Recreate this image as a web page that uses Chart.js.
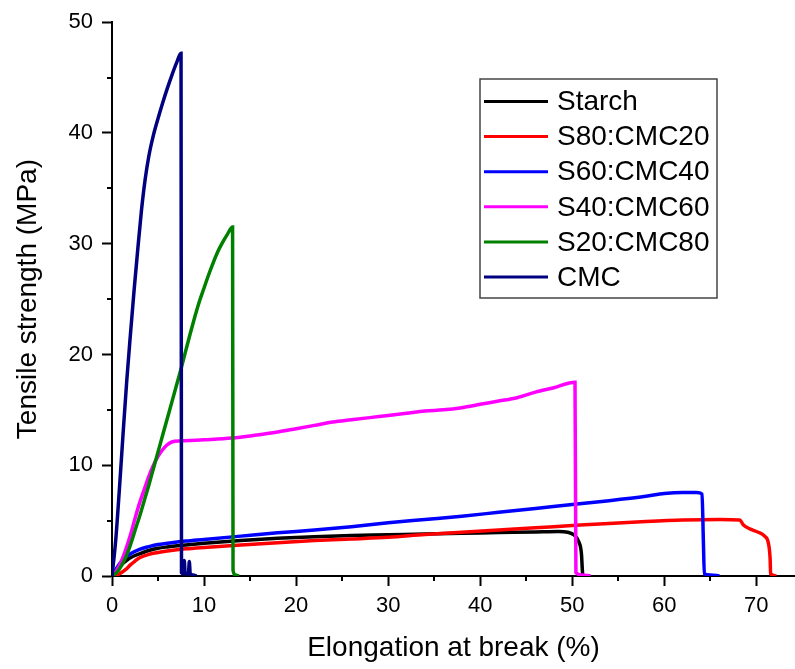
<!DOCTYPE html>
<html>
<head>
<meta charset="utf-8">
<script src="https://cdn.jsdelivr.net/npm/chart.js@4.4.1/dist/chart.umd.min.js"></script>
<style>
  body { margin: 0; background: #fff; }
  .wrap { width: 795px; height: 669px; }
</style>
</head>
<body>
<div class="wrap"><canvas id="tensileChart" width="795" height="669"></canvas></div>
<script>
// curves (elongation %, strength MPa)
const starchX = [0, 0.5, 1, 1.5, 2, 3, 4, 5, 6, 8, 10, 14, 18, 22, 26, 30, 34, 38, 42, 46, 48.5, 49.5, 50.2, 50.7, 51, 51.1, 51.15];
const starchY = [0, 0.5, 1, 1.35, 1.65, 2.0, 2.3, 2.5, 2.62, 2.8, 2.95, 3.2, 3.4, 3.55, 3.65, 3.72, 3.8, 3.86, 3.92, 3.98, 4.02, 3.95, 3.7, 3.1, 2, 0.5, 0];

const s80X = [0, 0.5, 1, 1.5, 2, 2.5, 3, 4, 5, 6, 8, 10, 14, 18, 22, 26, 30, 34, 38, 42, 46, 50, 54, 58, 62, 66, 68.2, 68.6, 69.3, 70.2, 70.9, 71.3, 71.5, 71.55, 72.2];
const s80Y = [0, 0.05, 0.3, 0.6, 1.0, 1.35, 1.65, 1.95, 2.12, 2.25, 2.45, 2.58, 2.8, 3, 3.2, 3.35, 3.5, 3.75, 3.95, 4.15, 4.35, 4.55, 4.75, 4.92, 5.05, 5.1, 5.05, 4.6, 4.25, 3.95, 3.6, 3, 1.5, 0.2, 0];

const s60X = [0, 0.5, 1, 1.5, 2, 3, 4, 5, 6, 8, 10, 14, 18, 22, 26, 30, 34, 38, 42, 46, 50, 54, 58, 60, 62, 63.5, 64.1, 64.25, 64.35, 65, 66];
const s60Y = [0, 0.7, 1.3, 1.7, 2, 2.4, 2.65, 2.85, 2.95, 3.15, 3.3, 3.6, 3.9, 4.15, 4.45, 4.8, 5.1, 5.4, 5.75, 6.1, 6.45, 6.8, 7.2, 7.45, 7.55, 7.55, 7.4, 3, 0.2, 0.1, 0];

const s40X = [0, 0.5, 1, 1.5, 2, 2.5, 3, 3.5, 4, 4.5, 5, 5.5, 6, 6.5, 7.5, 10, 13, 15.5, 18, 20, 22, 24, 26, 28, 30, 32, 34, 36, 38, 40, 42, 44, 46, 48, 50.3, 50.4, 51, 52];
const s40Y = [0, 0.5, 1.3, 2.4, 3.7, 5.2, 6.6, 7.8, 9.0, 10.0, 10.8, 11.4, 11.85, 12.1, 12.2, 12.3, 12.45, 12.7, 13.0, 13.3, 13.6, 13.9, 14.1, 14.3, 14.5, 14.7, 14.9, 15, 15.2, 15.5, 15.8, 16.1, 16.6, 17, 17.5, 0.3, 0.1, 0];

const s20X = [0, 0.5, 1, 1.5, 2, 2.5, 3, 3.5, 4, 4.5, 5, 5.5, 6, 6.5, 7, 7.5, 8, 8.5, 9, 9.5, 10, 10.5, 11, 11.5, 12, 12.5, 13.1, 13.15, 13.4, 13.8];
const s20Y = [0, 0.3, 0.9, 1.7, 2.8, 4.1, 5.4, 6.8, 8.2, 9.7, 11.2, 12.7, 14.2, 15.7, 17.2, 18.7, 20.3, 21.9, 23.4, 24.8, 26, 27.2, 28.3, 29.3, 30.1, 30.8, 31.5, 0.5, 0.1, 0];

const cmcX = [0, 0.4, 0.8, 1.2, 1.6, 2.0, 2.4, 2.8, 3.2, 3.6, 4.0, 4.5, 5.0, 5.5, 6.0, 6.5, 7.0, 7.5, 7.55, 7.8, 7.85, 7.95, 8.3, 8.4, 8.5, 8.8, 9.2];
const cmcY = [0, 3.2, 7.8, 12.8, 17.6, 21.8, 25.8, 29.5, 33.0, 35.8, 37.9, 39.8, 41.3, 42.7, 44.0, 45.2, 46.3, 47.2, 0.3, 0.2, 1.4, 0.2, 0.2, 1.3, 0.2, 0.1, 0];

const labels = ["Starch", "S80:CMC20", "S60:CMC40", "S40:CMC60", "S20:CMC80", "CMC"];
const colors = ["#000000", "#ff0000", "#0000ff", "#ff00ff", "#008000", "#000080"];
const xs = [starchX, s80X, s60X, s40X, s20X, cmcX];
const ys = [starchY, s80Y, s60Y, s40Y, s20Y, cmcY];

const xTickValues = [0, 10, 20, 30, 40, 50, 60, 70];
const yTickValues = [0, 10, 20, 30, 40, 50];

const fontFamily = "'Liberation Sans', Arial, sans-serif";

const datasets = labels.map((label, i) => ({
  label: label,
  data: xs[i].map((x, j) => ({ x: x, y: ys[i][j] })),
  borderColor: colors[i],
  backgroundColor: colors[i],
  borderWidth: 3.5,
  pointRadius: 0,
  fill: false,
  cubicInterpolationMode: "monotone",
  order: labels.length - i,
}));

// minor ticks + legend box inside the plot
const extras = {
  id: "extras",
  afterDraw(chart) {
    const ctx = chart.ctx;
    const xScale = chart.scales.x;
    const yScale = chart.scales.y;
    const area = chart.chartArea;
    ctx.save();
    ctx.strokeStyle = "#000";
    ctx.lineWidth = 2;
    ctx.beginPath();
    for (let v = 5; v < xScale.max; v += 10) {
      const px = Math.round(xScale.getPixelForValue(v));
      ctx.moveTo(px, area.bottom);
      ctx.lineTo(px, area.bottom + 5);
    }
    for (let v = 5; v < yScale.max; v += 10) {
      const py = Math.round(yScale.getPixelForValue(v));
      ctx.moveTo(area.left, py);
      ctx.lineTo(area.left - 5, py);
    }
    ctx.stroke();

    // legend
    const boxLeft = 480, boxTop = 79, boxW = 237, boxH = 219;
    ctx.fillStyle = "#fff";
    ctx.fillRect(boxLeft, boxTop, boxW, boxH);
    ctx.strokeStyle = "#444";
    ctx.lineWidth = 1.5;
    ctx.strokeRect(boxLeft, boxTop, boxW, boxH);
    ctx.font = "28px " + fontFamily;
    ctx.textBaseline = "middle";
    ctx.textAlign = "left";
    chart.data.datasets.forEach((ds, i) => {
      const cy = 101.5 + i * 35.1;
      ctx.strokeStyle = ds.borderColor;
      ctx.lineWidth = 3;
      ctx.beginPath();
      ctx.moveTo(484, cy);
      ctx.lineTo(548, cy);
      ctx.stroke();
      ctx.fillStyle = "#000";
      ctx.fillText(ds.label, 557, cy + 1);
    });
    ctx.restore();
  },
};

const chart = new Chart(document.getElementById("tensileChart"), {
  type: "line",
  data: { datasets: datasets },
  options: {
    responsive: false,
    animation: false,
    layout: { padding: { top: 20, right: 0, bottom: 0, left: 0 } },
    plugins: {
      legend: { display: false },
      tooltip: { enabled: false },
    },
    scales: {
      x: {
        type: "linear",
        min: 0,
        max: 74.2,
        afterFit: (scale) => { scale.height = 93; },
        afterBuildTicks: (scale) => {
          scale.ticks = xTickValues.map((v) => ({ value: v }));
        },
        ticks: {
          padding: 7,
          color: "#000",
          font: { family: fontFamily, size: 22 },
          maxRotation: 0,
          autoSkip: false,
        },
        grid: { drawOnChartArea: false, drawTicks: true, tickLength: 10, tickWidth: 2, tickColor: "#000" },
        border: { color: "#000", width: 2 },
        title: {
          display: true,
          text: "Elongation at break (%)",
          color: "#000",
          font: { family: fontFamily, size: 28 },
          padding: { top: 0, bottom: 4 },
        },
      },
      y: {
        min: 0,
        max: 50,
        afterFit: (scale) => { scale.width = 112; },
        afterBuildTicks: (scale) => {
          scale.ticks = yTickValues.map((v) => ({ value: v }));
        },
        ticks: {
          padding: 9,
          color: "#000",
          font: { family: fontFamily, size: 22 },
          autoSkip: false,
        },
        grid: { drawOnChartArea: false, drawTicks: true, tickLength: 10, tickWidth: 2, tickColor: "#000" },
        border: { color: "#000", width: 2 },
        title: {
          display: true,
          text: "Tensile strength (MPa)",
          color: "#000",
          font: { family: fontFamily, size: 28 },
          padding: { top: 11, bottom: 0 },
        },
      },
    },
  },
  plugins: [extras],
});
</script>
</body>
</html>
